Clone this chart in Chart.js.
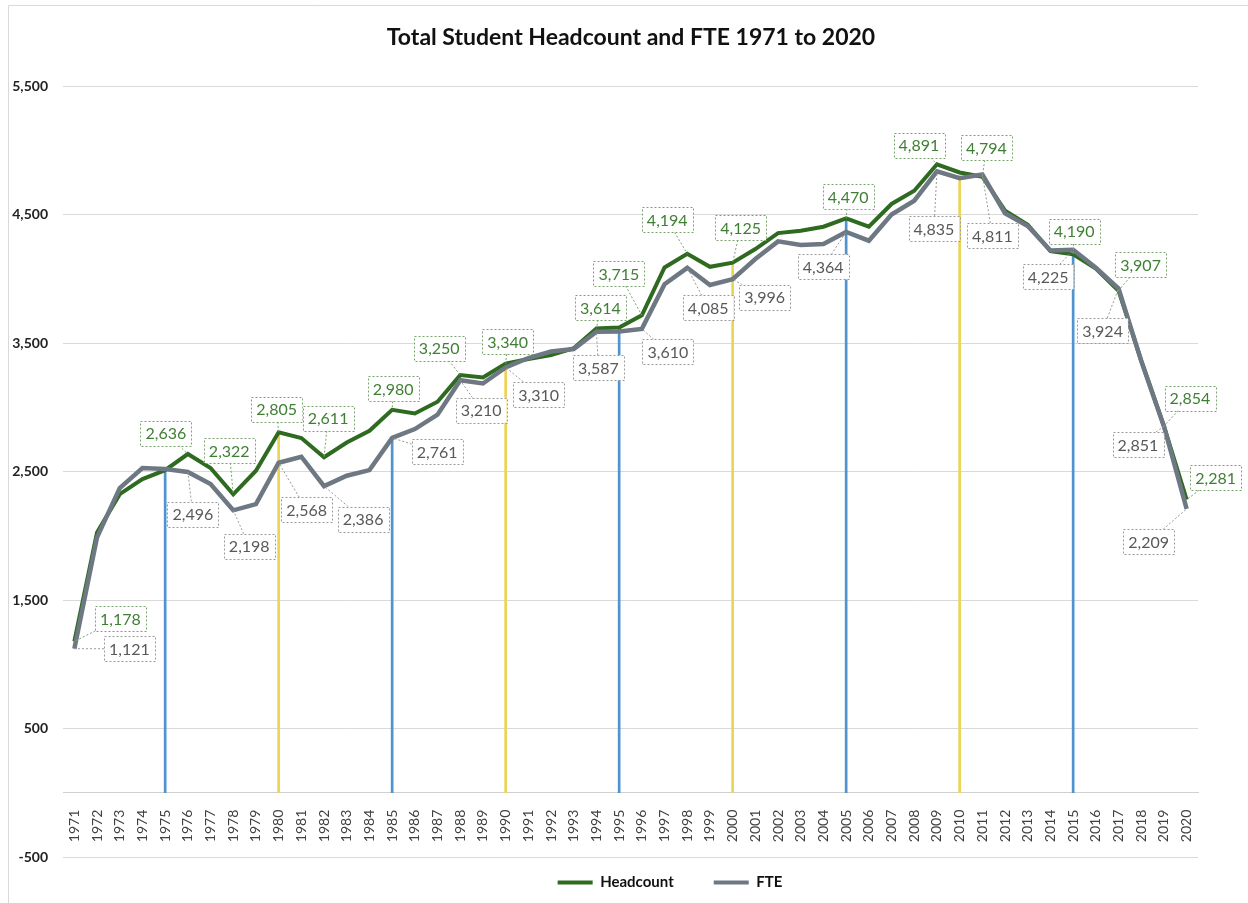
<!DOCTYPE html>
<html>
<head>
<meta charset="utf-8">
<title>Total Student Headcount and FTE 1971 to 2020</title>
<script src="https://cdn.jsdelivr.net/npm/chart.js@4.4.1/dist/chart.umd.min.js"></script>
<style>
  html, body { margin: 0; padding: 0; background: #fff; }
  #wrap { position: relative; width: 1248px; height: 903px; }
</style>
</head>
<body>
<div id="wrap"><canvas id="chart" width="1248" height="903"></canvas></div>
<script>
// ---- data ----
const years = [
  '1971', '1972', '1973', '1974', '1975', '1976', '1977', '1978', '1979', '1980',
  '1981', '1982', '1983', '1984', '1985', '1986', '1987', '1988', '1989', '1990',
  '1991', '1992', '1993', '1994', '1995', '1996', '1997', '1998', '1999', '2000',
  '2001', '2002', '2003', '2004', '2005', '2006', '2007', '2008', '2009', '2010',
  '2011', '2012', '2013', '2014', '2015', '2016', '2017', '2018', '2019', '2020'
];

const headcount = [
  1178, 2026, 2324, 2441, 2510, 2636, 2527, 2322, 2506, 2805,
  2760, 2611, 2726, 2817, 2980, 2952, 3043, 3250, 3232, 3340,
  3375, 3406, 3460, 3614, 3620, 3715, 4088, 4194, 4093, 4125,
  4231, 4355, 4373, 4405, 4470, 4405, 4582, 4685, 4891, 4827,
  4794, 4530, 4420, 4215, 4190, 4080, 3907, 3362, 2854, 2281
];

const fte = [
  1121, 1987, 2371, 2527, 2520, 2496, 2402, 2198, 2246, 2568,
  2615, 2386, 2467, 2511, 2761, 2830, 2942, 3210, 3185, 3310,
  3383, 3434, 3453, 3587, 3590, 3610, 3958, 4085, 3951, 3996,
  4153, 4291, 4262, 4270, 4364, 4296, 4500, 4607, 4835, 4783,
  4811, 4510, 4410, 4220, 4225, 4085, 3924, 3360, 2851, 2209
];

// vertical marker lines every five years
const dropYears = ['1975', '1980', '1985', '1990', '1995', '2000', '2005', '2010', '2015'];
const dropValues = [2510, 2805, 2761, 3340, 3614, 4125, 4470, 4800, 4190];

const yTicks = [-500, 500, 1500, 2500, 3500, 4500, 5500];

// ---- callout placement (offset of box centre from the point, px) ----
const hcLabelPos = {
  1971: [46, -23], 1976: [-22, -21], 1978: [-4, -44], 1980: [-2, -23], 1982: [4, -39],
  1985: [1, -21], 1988: [-21, -27], 1990: [2, -22], 1994: [4, -21], 1996: [-23, -42],
  1998: [-20, -34], 2000: [8, -35], 2005: [2, -22], 2009: [-18, -19], 2011: [4, -29],
  2015: [1, -23], 2017: [22, -26], 2019: [26, -28], 2020: [29, -22]
};
const fteLabelPos = {
  1971: [55, 0], 1976: [5, 42], 1978: [16, 36], 1980: [28, 47], 1982: [39, 33],
  1985: [45, 14], 1988: [21, 30], 1990: [33, 27], 1994: [2, 36], 1996: [26, 23],
  1998: [21, 40], 2000: [32, 18], 2005: [-23, 35], 2009: [-3, 57], 2011: [10, 61],
  2015: [-25, 27], 2017: [-16, 42], 2019: [-26, 18], 2020: [-38, 33]
};

const GREEN = '#2e6a1f';
const GREY = '#6e7883';

Chart.defaults.font.family = 'Lato, "Open Sans", sans-serif';
Chart.defaults.color = '#262626';

// dashed callout boxes with a leader line to the point
const callouts = {
  id: 'callouts',
  afterDatasetsDraw(chart) {
    const ctx = chart.ctx;
    const sets = [
      [0, hcLabelPos, '#3f7f33', '#7aa56e'],
      [1, fteLabelPos, '#595959', '#9a9a9a']
    ];
    sets.forEach(([di, pos, textColor, lineColor]) => {
      const meta = chart.getDatasetMeta(di);
      const values = chart.data.datasets[di].data;
      Object.keys(pos).forEach(year => {
        const i = years.indexOf(year);
        const pt = meta.data[i];
        const [dx, dy] = pos[year];
        const text = values[i].toLocaleString('en-US');
        ctx.save();
        ctx.font = '16px Lato, "Open Sans", sans-serif';
        const w = ctx.measureText(text).width + 10;
        const h = 25;
        const cx = pt.x + dx, cy = pt.y + dy;
        ctx.strokeStyle = lineColor;
        ctx.lineWidth = 1;
        ctx.setLineDash([2, 2]);
        // leader line from box edge to the point
        const vx = pt.x - cx, vy = pt.y - cy;
        const tx = vx !== 0 ? (w / 2) / Math.abs(vx) : Infinity;
        const ty = vy !== 0 ? (h / 2) / Math.abs(vy) : Infinity;
        const t = Math.min(tx, ty);
        if (t < 1) {
          ctx.beginPath();
          ctx.moveTo(cx + vx * t, cy + vy * t);
          ctx.lineTo(pt.x, pt.y);
          ctx.stroke();
        }
        ctx.fillStyle = '#fff';
        ctx.fillRect(cx - w / 2, cy - h / 2, w, h);
        ctx.strokeRect(Math.round(cx - w / 2) + 0.5, Math.round(cy - h / 2) + 0.5, Math.round(w), h);
        ctx.fillStyle = textColor;
        ctx.textAlign = 'center';
        ctx.textBaseline = 'middle';
        ctx.fillText(text, cx, cy + 1);
        ctx.restore();
      });
    });
  }
};

// white background and the chart frame
const frame = {
  id: 'frame',
  beforeDraw(chart) {
    const ctx = chart.ctx;
    ctx.save();
    ctx.fillStyle = '#fff';
    ctx.fillRect(0, 0, chart.width, chart.height);
    ctx.strokeStyle = '#d9d9d9';
    ctx.lineWidth = 1;
    ctx.beginPath();
    ctx.moveTo(8.5, chart.height);
    ctx.lineTo(8.5, 5.5);
    ctx.lineTo(chart.width, 5.5);
    ctx.stroke();
    ctx.restore();
  }
};

// move the legend row and the title to match the reference placement
const boxPlace = {
  id: 'boxPlace',
  afterLayout(chart) {
    const lg = chart.legend;
    lg.top = chart.chartArea.bottom - 22;
    lg.left += 134;
    chart.titleBlock.left += 56;
  }
};

new Chart(document.getElementById('chart'), {
  type: 'line',
  data: {
    labels: years,
    datasets: [
      {
        label: 'Headcount',
        data: headcount,
        borderColor: GREEN,
        backgroundColor: GREEN,
        borderWidth: 4,
        pointRadius: 0,
        tension: 0,
        order: 2
      },
      {
        label: 'FTE',
        data: fte,
        borderColor: GREY,
        backgroundColor: GREY,
        borderWidth: 4.5,
        pointRadius: 0,
        tension: 0,
        order: 1
      },
      {
        type: 'bar',
        label: 'marks',
        data: years.map(y => {
          const k = dropYears.indexOf(y);
          return k >= 0 ? dropValues[k] : null;
        }),
        backgroundColor: ctx => (Number(years[ctx.dataIndex]) % 10 === 5 ? '#4f93cf' : '#ecd453'),
        barThickness: 2,
        order: 3
      }
    ]
  },
  options: {
    responsive: false,
    animation: false,
    layout: { padding: { top: 24, left: 8, right: 50, bottom: 4 } },
    plugins: {
      title: {
        display: true,
        text: 'Total Student Headcount and FTE 1971 to 2020',
        font: { size: 23, weight: 'bold' },
        color: '#111',
        padding: { top: 0, bottom: 34.4 }
      },
      legend: {
        position: 'bottom',
        maxHeight: 42,
        labels: {
          boxWidth: 35,
          boxHeight: 4,
          padding: 40,
          color: '#111',
          font: { size: 15, weight: 'bold' },
          generateLabels(chart) {
            const items = Chart.defaults.plugins.legend.labels.generateLabels(chart);
            return items.filter(it => it.datasetIndex < 2).map(it => Object.assign(it, { lineWidth: 0 }));
          },
          sort: (a, b) => a.datasetIndex - b.datasetIndex
        }
      },
      tooltip: { enabled: false }
    },
    scales: {
      x: {
        position: { y: 0 },
        grid: { display: false },
        border: { display: true, color: '#d0d0d0', width: 1 },
        ticks: {
          minRotation: 90,
          maxRotation: 90,
          autoSkip: false,
          padding: 9,
          color: '#404040',
          font: { size: 14 }
        }
      },
      y: {
        min: -500,
        max: 5500,
        afterBuildTicks: scale => { scale.ticks = yTicks.map(v => ({ value: v })); },
        afterFit: scale => { scale.width = 55; },
        grid: { color: '#d9d9d9', drawTicks: false },
        border: { display: false },
        ticks: {
          padding: 15,
          color: '#222',
          font: { size: 14, weight: 'bold' }
        }
      }
    }
  },
  plugins: [frame, callouts, boxPlace]
});
</script>
</body>
</html>
